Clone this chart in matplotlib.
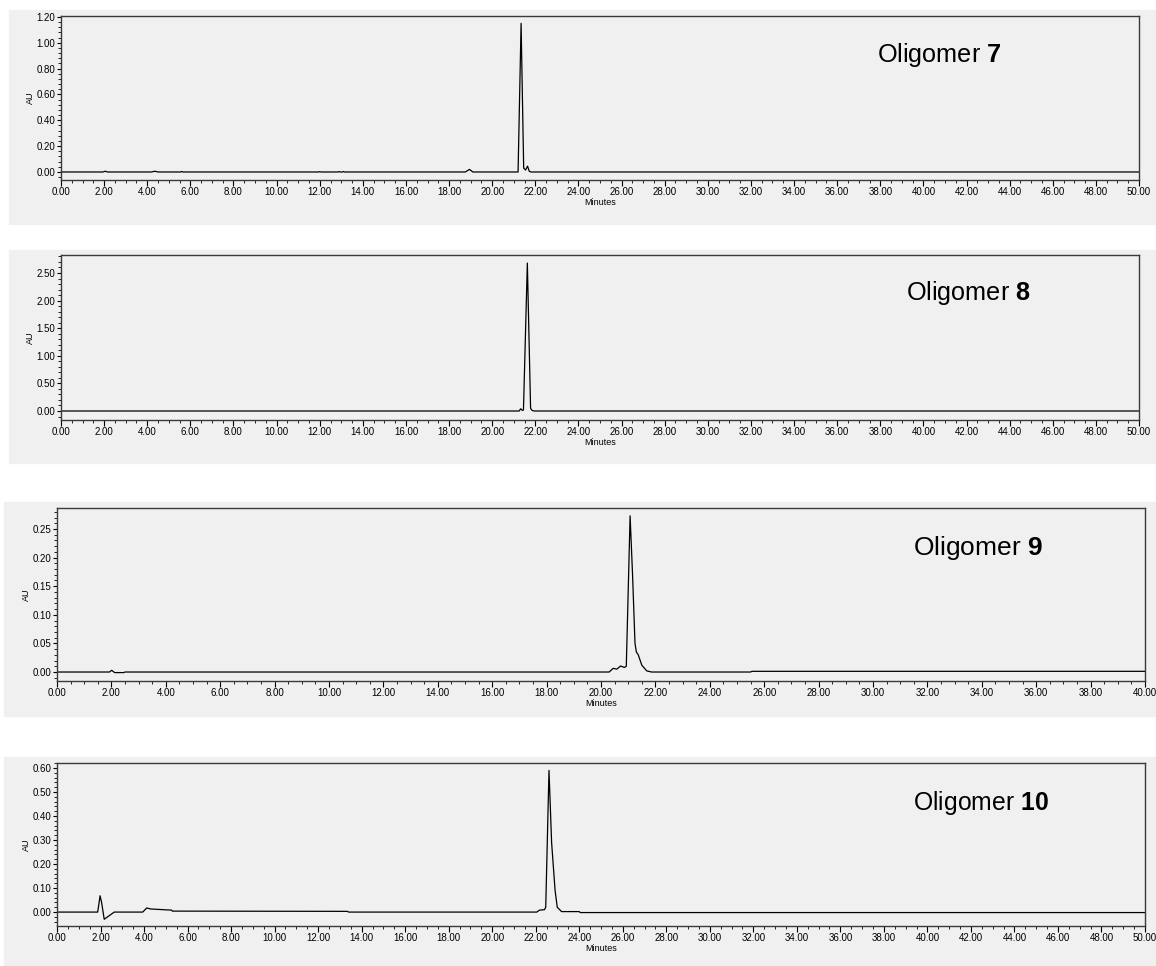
import matplotlib
matplotlib.use('Agg')
from matplotlib import pyplot as plt
from matplotlib.patches import Rectangle
from matplotlib.ticker import MultipleLocator, FormatStrFormatter

plt.rcParams['font.family'] = ['Liberation Sans', 'DejaVu Sans']
plt.rcParams['mathtext.fontset'] = 'custom'
plt.rcParams['mathtext.bf'] = 'Liberation Sans:bold'
plt.rcParams['mathtext.rm'] = 'Liberation Sans'

# chromatogram traces (minutes, AU), vertices
t7 = [0, 1.95, 2.05, 2.15, 4.2, 4.35, 4.5, 5.55, 5.6, 5.65, 11.95, 12.0, 12.05,
      12.85, 12.9, 12.95, 13.05, 13.1, 13.15, 18.75, 18.95, 19.1,
      21.2, 21.34, 21.46, 21.55, 21.64, 21.72, 21.8, 50]
a7 = [0, 0, 0.006, 0, 0, 0.006, 0, 0, 0.004, 0, 0, 0.003, 0,
      0, 0.003, 0, 0, 0.004, 0, 0, 0.02, 0,
      0, 1.15, 0.03, 0.015, 0.045, 0.005, 0, 0]

t8 = [0, 21.25, 21.32, 21.4, 21.45, 21.63, 21.78, 21.85, 21.95, 50]
a8 = [0, 0, 0.04, 0.01, 0.02, 2.68, 0.05, 0.01, 0, 0]

t9 = [0, 1.93, 2.01, 2.12, 2.45, 2.5, 20.3, 20.45, 20.58, 20.72, 20.86, 20.93,
      21.07, 21.16, 21.25, 21.3, 21.37, 21.5, 21.68, 21.86, 25.5, 25.55, 40]
a9 = [0, 0, 0.003, -0.001, -0.001, 0, 0, 0.0065, 0.005, 0.0105, 0.008, 0.01,
      0.273, 0.17, 0.05, 0.035, 0.03, 0.012, 0.002, 0, 0, 0.0012, 0.0012]

t10 = [0, 1.87, 1.98, 2.05, 2.17, 2.4, 2.63, 3.94, 4.12, 4.3, 5.27, 5.3,
       13.35, 13.4, 22.05, 22.17, 22.4, 22.46, 22.61, 22.73, 22.89, 22.99,
       23.19, 24.0, 24.05, 50]
a10 = [0, 0, 0.068, 0.04, -0.03, -0.015, 0, 0, 0.017, 0.013, 0.008, 0.004,
       0.003, 0, 0, 0.008, 0.01, 0.02, 0.59, 0.29, 0.09, 0.02,
       0.002, 0.002, -0.002, -0.002]

labels = ['7', '8', '9', '10']
xmax = [50, 50, 40, 50]
ylims = [(-0.062, 1.207), (-0.163, 2.826), (-0.0157, 0.2867), (-0.058, 0.621)]
ymajor = [0.2, 0.5, 0.05, 0.1]

W, H = 1156, 966
# pixel boxes: background panel and axes (left, top, right, bottom)
bg_boxes = [(9, 10, 1156, 224), (9, 250, 1156, 463),
            (4, 502, 1156, 716), (4, 757, 1156, 966)]
ax_boxes = [(61, 16, 1139, 180), (61, 255, 1139, 420),
            (57, 508, 1145, 681), (57, 763, 1145, 926)]
text_pos = [(877, 55), (906, 293), (913, 548), (913, 803)]
text_size = [18.2, 18.2, 19, 17.8]

traces = [(t7, a7), (t8, a8), (t9, a9), (t10, a10)]
bgc = '#f0f0f0'

fig = plt.figure(figsize=(W / 100, H / 100), dpi=100)

for i in range(4):
    l, t, r, b = bg_boxes[i]
    fig.patches.append(Rectangle((l / W, 1 - b / H), (r - l) / W, (b - t) / H,
                                 transform=fig.transFigure, color=bgc, zorder=-5))
    l, t, r, b = ax_boxes[i]
    ax = fig.add_axes([l / W, 1 - b / H, (r - l) / W, (b - t) / H])
    ax.set_facecolor(bgc)

    x, y = traces[i]
    ax.plot(x, y, color='black', lw=0.9)

    ax.set_xlim(0, xmax[i])
    ax.set_ylim(*ylims[i])
    ax.xaxis.set_major_locator(MultipleLocator(2))
    ax.xaxis.set_minor_locator(MultipleLocator(0.5))
    ax.yaxis.set_major_locator(MultipleLocator(ymajor[i]))
    ax.yaxis.set_minor_locator(MultipleLocator(ymajor[i] / 5))
    ax.xaxis.set_major_formatter(FormatStrFormatter('%.2f'))
    ax.yaxis.set_major_formatter(FormatStrFormatter('%.2f'))
    ax.tick_params(which='major', length=4, width=0.8, labelsize=7, pad=1)
    ax.tick_params(axis='y', which='major', length=3)
    ax.tick_params(which='minor', length=2, width=0.6)
    for s in ax.spines.values():
        s.set_color('#3a3a3a')
        s.set_linewidth(1.0)

    ax.set_xlabel('Minutes', fontsize=6.5, labelpad=1)
    ax.set_ylabel('AU', fontsize=6.5, labelpad=1.5)

    tx, ty = text_pos[i]
    fig.text(tx / W, 1 - ty / H, 'Oligomer $\\mathbf{' + labels[i] + '}$',
             fontsize=text_size[i], va='center', ha='left')

fig.savefig('out.png', dpi=100)
